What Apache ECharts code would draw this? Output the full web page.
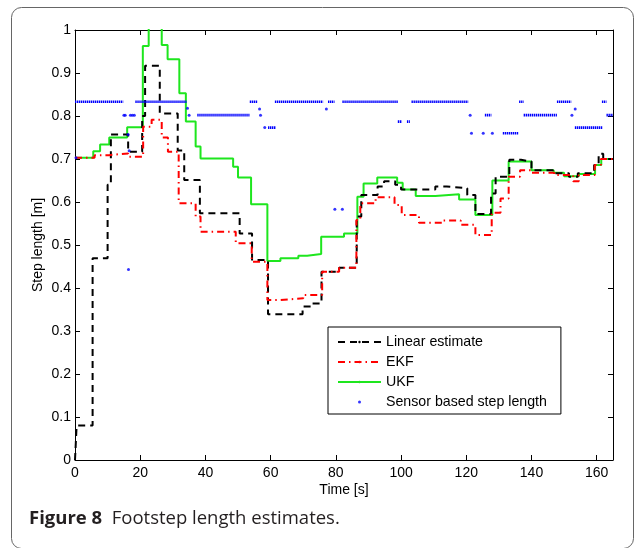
<!DOCTYPE html>
<html>
<head>
<meta charset="utf-8">
<script src="https://cdn.jsdelivr.net/npm/echarts@6/dist/echarts.min.js"></script>
<style>
html,body{margin:0;padding:0;background:#fff;}
#chart{width:636px;height:548px;}
</style>
</head>
<body>
<div id="chart"></div>
<script>
// ---- Linear estimate (step values: time [s], step length [m])
var LIN_T = [0, 0.5, 5.4, 10.0, 11.0, 16.3, 20.6, 21.5, 26.0, 31.5, 33.5, 38.3, 50.5, 54.3, 59.2, 69.8, 72.5, 75.6, 81.0, 86.4, 87.8, 92.8, 94.8, 98.2, 100.0, 110.5, 114.0, 120.3, 122.8, 127.6, 129.0, 133.2, 136.8, 140.0, 146.6, 151.5, 154.2, 159.2, 160.6, 162.0, 165];
var LIN_V = [0, 0.08, 0.469, 0.64, 0.757, 0.717, 0.80, 0.917, 0.806, 0.72, 0.651, 0.574, 0.527, 0.465, 0.339, 0.357, 0.364, 0.438, 0.447, 0.566, 0.616, 0.636, 0.648, 0.640, 0.629, 0.636, 0.632, 0.616, 0.572, 0.620, 0.659, 0.698, 0.694, 0.674, 0.667, 0.659, 0.667, 0.686, 0.712, 0.70, 0.70];

// ---- EKF
var EKF_T = [0, 6, 10.5, 16.3, 20.9, 23.5, 26.6, 28.5, 31.8, 37.0, 38.5, 49.3, 54.2, 59.0, 63.0, 70.0, 75.8, 81.0, 86.3, 87.5, 92.2, 98.0, 100.2, 105.5, 112.8, 118.3, 122.8, 127.8, 130.5, 133.0, 136.5, 140.0, 147.0, 152.8, 154.5, 159.4, 161.3, 165];
var EKF_V = [0.703, 0.709, 0.713, 0.705, 0.775, 0.791, 0.75, 0.717, 0.597, 0.566, 0.531, 0.504, 0.461, 0.372, 0.376, 0.384, 0.438, 0.447, 0.558, 0.597, 0.611, 0.593, 0.570, 0.552, 0.557, 0.547, 0.523, 0.575, 0.608, 0.659, 0.674, 0.668, 0.663, 0.648, 0.663, 0.686, 0.70, 0.70];

// ---- UKF
var UKF_T = [0, 5.6, 7.7, 10.5, 16.0, 20.8, 22.6, 26.6, 28.4, 32.0, 34.0, 37.0, 38.5, 48.5, 50.0, 54.0, 59.0, 63.0, 68.5, 71.2, 75.5, 82.5, 86.6, 88.5, 92.7, 98.8, 100.5, 104.5, 110.5, 117.8, 122.8, 128.0, 133.0, 140.0, 146.8, 150.0, 154.5, 159.5, 161.4, 165];
var UKF_V = [0.703, 0.718, 0.734, 0.75, 0.774, 0.963, 1.02, 0.965, 0.932, 0.853, 0.787, 0.729, 0.701, 0.682, 0.657, 0.595, 0.463, 0.469, 0.475, 0.479, 0.519, 0.527, 0.612, 0.643, 0.657, 0.645, 0.629, 0.614, 0.618, 0.606, 0.570, 0.650, 0.694, 0.674, 0.668, 0.660, 0.665, 0.686, 0.700, 0.700];

// ---- Sensor based step length: runs of identical consecutive readings (start, end, value)
var RUN_START = [0, 18.5, 53.6, 61.3, 77.6, 82.0, 103.2, 136.2, 147.8, 161.6, 37.5, 125.7, 137.6, 163.0, 59.2, 153.3, 99.0, 101.8, 131.2];
var RUN_END   = [14.8, 34.2, 56.0, 76.1, 79.6, 99.0, 120.6, 137.6, 152.2, 163.0, 53.6, 127.7, 147.8, 165.0, 61.5, 161.7, 100.3, 102.7, 136.1];
var RUN_VAL   = [0.833, 0.833, 0.833, 0.833, 0.833, 0.833, 0.833, 0.833, 0.833, 0.833, 0.802, 0.802, 0.802, 0.802, 0.773, 0.773, 0.787, 0.787, 0.760];
// isolated sensor readings
var DOT_T = [0.3, 15.0, 15.4, 17.0, 17.6, 18.2, 16.3, 16.6, 16.4, 34.5, 35.0, 56.6, 56.9, 58.2, 77.1, 79.7, 82.0, 121.2, 121.6, 125.2, 128.0, 152.4, 153.4];
var DOT_V = [0.703, 0.802, 0.802, 0.802, 0.802, 0.802, 0.757, 0.719, 0.443, 0.818, 0.802, 0.816, 0.802, 0.773, 0.816, 0.583, 0.583, 0.802, 0.760, 0.760, 0.760, 0.802, 0.816];

var X_MIN = 0, X_MAX = 165, X_STEP = 20;
var Y_MIN = 0, Y_MAX = 1, Y_STEP = 0.1;

function pairs(T, V) { return T.map(function (t, i) { return [t, V[i]]; }); }
var runData = [];
RUN_START.forEach(function (s, i) {
  runData.push([s, RUN_VAL[i]]);
  runData.push([RUN_END[i], RUN_VAL[i]]);
  runData.push([RUN_END[i], null]);
});

var FONT = 'Liberation Sans';
var tick = { show: true, inside: true, length: 5, lineStyle: { color: '#000', width: 1 } };
var axLine = { show: true, onZero: false, lineStyle: { color: '#000', width: 1 } };
var chart = echarts.init(document.getElementById('chart'), null, { renderer: 'canvas' });
chart.setOption({
  animation: false,
  backgroundColor: '#fff',
  grid: { left: 75, top: 30, right: 23, bottom: 88, containLabel: false },
  xAxis: [{
    type: 'value', position: 'bottom', min: X_MIN, max: X_MAX, interval: X_STEP,
    name: 'Time [s]', nameLocation: 'middle', nameGap: 23, nameMoveOverlap: false,
    nameTextStyle: { fontSize: 14, fontFamily: FONT, color: '#000' },
    axisLine: axLine, axisTick: tick,
    axisLabel: { margin: 6, fontSize: 14, fontFamily: FONT, color: '#000', showMaxLabel: false,
      formatter: function (v) { return (v % X_STEP === 0) ? String(v) : ''; } },
    splitLine: { show: false }
  }, {
    type: 'value', position: 'top', min: X_MIN, max: X_MAX, interval: X_STEP,
    axisLine: axLine, axisTick: tick,
    axisLabel: { show: false }, splitLine: { show: false }
  }],
  yAxis: [{
    type: 'value', position: 'left', min: Y_MIN, max: Y_MAX, interval: Y_STEP,
    name: 'Step length [m]', nameLocation: 'middle', nameGap: 30, nameRotate: 90, nameMoveOverlap: false,
    nameTextStyle: { fontSize: 14, fontFamily: FONT, color: '#000' },
    axisLine: axLine, axisTick: tick,
    axisLabel: { margin: 4, fontSize: 14, fontFamily: FONT, color: '#000',
      formatter: function (v) { return (v === 0 || v === 1) ? String(v) : v.toFixed(1); } },
    splitLine: { show: false }
  }, {
    type: 'value', position: 'right', min: Y_MIN, max: Y_MAX, interval: Y_STEP,
    axisLine: axLine, axisTick: tick,
    axisLabel: { show: false }, splitLine: { show: false }
  }],
  legend: {
    data: [
      { name: 'Linear estimate' },
      { name: 'EKF' },
      { name: 'UKF' },
      { name: 'Sensor based step length', icon: 'circle' }
    ],
    orient: 'vertical', left: 328, top: 327,
    itemWidth: 43, itemHeight: 3, itemGap: 4,
    padding: [7, 14, 4, 9],
    borderColor: '#000', borderWidth: 1, backgroundColor: '#fff',
    textStyle: { fontSize: 14.2, fontFamily: FONT, color: '#000', lineHeight: 16 }
  },
  series: [
    { name: 'Linear estimate', type: 'line', step: 'end', symbol: 'none', data: pairs(LIN_T, LIN_V),
      xAxisIndex: 0, yAxisIndex: 0,
      lineStyle: { color: '#000', width: 2, type: [7, 5] }, itemStyle: { color: '#000' }, z: 3 },
    { name: 'EKF', type: 'line', step: 'end', symbol: 'none', data: pairs(EKF_T, EKF_V),
      xAxisIndex: 0, yAxisIndex: 0,
      lineStyle: { color: '#ff0000', width: 2, type: [7, 4, 1.5, 4] }, itemStyle: { color: '#ff0000' }, z: 4 },
    { name: 'UKF', type: 'line', step: 'end', symbol: 'none', data: pairs(UKF_T, UKF_V),
      xAxisIndex: 0, yAxisIndex: 0,
      lineStyle: { color: '#1ee61e', width: 2 }, itemStyle: { color: '#1ee61e' }, z: 2 },
    { name: 'sensorRuns', type: 'line', symbol: 'none', data: runData, connectNulls: false, silent: true,
      xAxisIndex: 0, yAxisIndex: 0,
      lineStyle: { color: '#0000ff', width: 2.6, type: [1.4, 0.6] }, z: 5 },
    { name: 'Sensor based step length', type: 'scatter', symbol: 'circle', symbolSize: 3,
      xAxisIndex: 0, yAxisIndex: 0,
      data: pairs(DOT_T, DOT_V), itemStyle: { color: '#0000ff' }, z: 5 }
  ],
  graphic: [
    { type: 'rect', silent: true, z: -10,
      shape: { x: 11.5, y: 7.5, width: 622, height: 541, r: 10 },
      style: { fill: null, stroke: '#666', lineWidth: 1 } },
    { type: 'text', left: 29, top: 509, silent: true,
      style: { text: '{b|Figure 8}  Footstep length estimates.', fontSize: 18.5, fontFamily: 'Open Sans', fill: '#231f20',
        rich: { b: { fontWeight: 'bold', fontSize: 18.5, fontFamily: 'Open Sans', fill: '#231f20' } } } }
  ]
});
</script>
</body>
</html>
